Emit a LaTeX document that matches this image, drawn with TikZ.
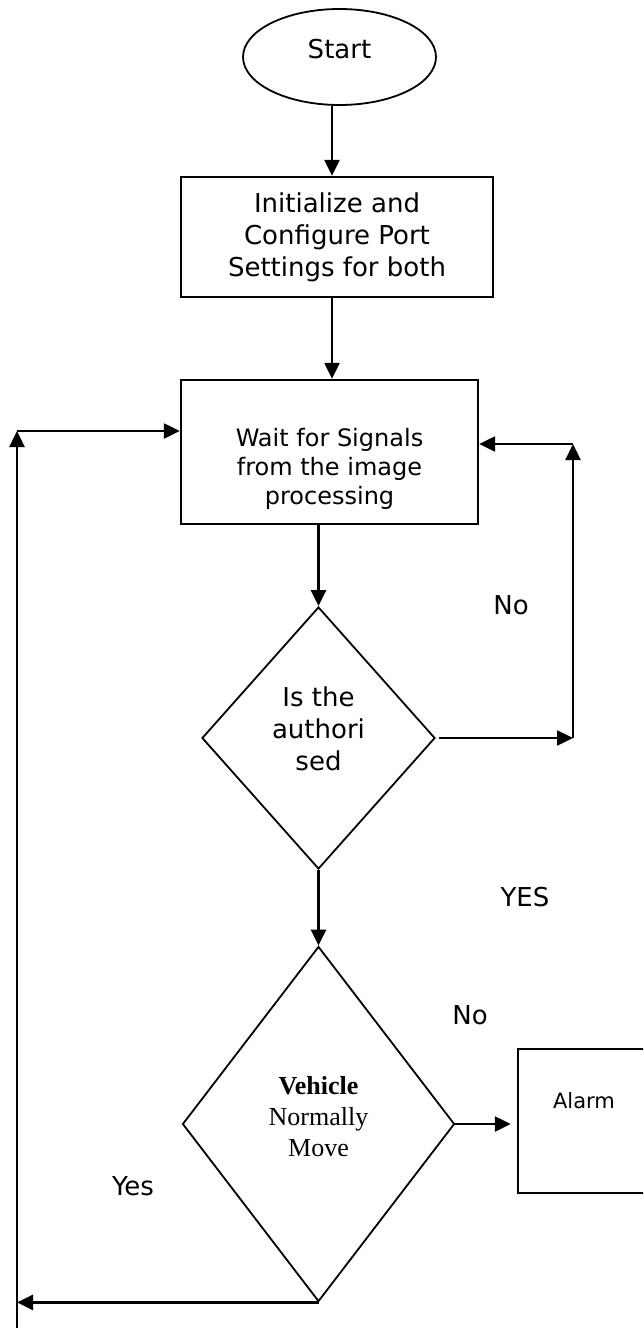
\documentclass[tikz,border=0pt]{standalone}
\usepackage{fontspec}
\setmainfont{DejaVu Sans}
\newfontfamily\timesfont{Liberation Serif}
\usetikzlibrary{shapes.geometric,arrows.meta}

\begin{document}
\begin{tikzpicture}[x=0.5pt,y=-0.5pt,
    flow/.style={line width=1.2pt,-{Triangle[length=8pt,width=7.5pt]}},
    box/.style={draw,line width=1.2pt,rectangle,inner sep=0pt},
    dec/.style={draw,line width=0.9pt,diamond,inner sep=0pt},
    lbl/.style={font=\fontsize{13}{16}\selectfont,align=center}]
  \clip (0,0) rectangle (643,1328);
  \node[draw,ellipse,line width=0.9pt,minimum width=96.5pt,minimum height=48pt,
    label={[lbl,yshift=4pt]center:Start}] (start) at (339.5,57) {};
  \node[box,lbl,minimum width=156pt,minimum height=60pt] (init) at (337,237)
    {Initialize and\\Configure Port\\Settings for both};
  \node[box,minimum width=148.5pt,minimum height=72pt,
    label={[align=center,font=\fontsize{12}{14.5}\selectfont,yshift=-8.5pt]center:Wait for Signals\\from the image\\processing}] (wait) at (329.5,452) {};
  \node[dec,minimum width=116.5pt,minimum height=131pt,
    label={[lbl,yshift=4.5pt]center:Is the\\authori\\sed}] (auth) at (318.5,738) {};
  \node[dec,minimum width=136pt,minimum height=177.5pt,
    label={[align=center,font=\timesfont\fontsize{13}{15.5}\selectfont,yshift=3.5pt]center:{\bfseries Vehicle}\\Normally\\Move}] (move) at (318.5,1124) {};
  \node[box,minimum width=75pt,minimum height=72pt,
    label={[font=\fontsize{10.5}{12}\selectfont,xshift=-4.5pt,yshift=10pt]center:Alarm}] (alarm) at (593,1121) {};

  \node[lbl] (no1) at (511,605) {No};
  \node[lbl] (yes1) at (525,897) {YES};
  \node[lbl] (no2) at (470,1015) {No};
  \node[lbl] (yes2) at (133,1186) {Yes};

  \coordinate (rb) at (573,738);
  \coordinate (rt) at (573,444);
  \coordinate (lt) at (17,431);
  \coordinate (le) at (17,1340);

  \draw[flow] ([xshift=-3.75pt]start.south) -- ([xshift=-3.75pt]start.south |- init.north);
  \draw[flow] ([xshift=-2.5pt]init.south) -- ([xshift=-2.5pt]init.south |- wait.north);
  \draw[flow] (wait.south -| auth.north) -- (auth.north);
  \draw[flow] (auth.south) -- (move.north);
  \draw[flow] ([xshift=1.5pt]auth.east) -- (rb);
  \draw[flow] (rb) -- (rt);
  \draw[flow] (rt) -- (rt -| wait.east);
  \draw[flow,shorten >=3pt] (move.east) -- (move.east -| alarm.west);
  \draw[flow] (move.south) -- (move.south -| le);
  \draw[flow] (le) -- (lt);
  \draw[flow] (lt) -- (lt -| wait.west);
\end{tikzpicture}
\end{document}
